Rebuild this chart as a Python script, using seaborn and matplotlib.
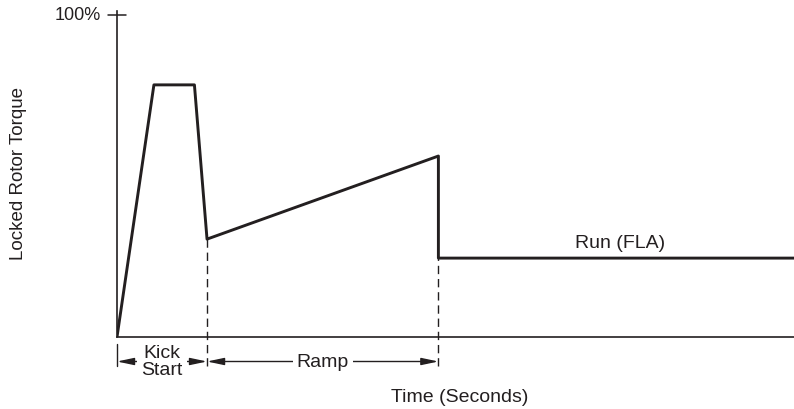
import matplotlib
matplotlib.use("Agg")
import matplotlib.pyplot as plt
import seaborn as sns
import pandas as pd

# Soft-start torque profile: kick start, ramp, then run at full-load amps
time_s = [0, 0.41, 0.86, 1.0, 3.57, 3.57, 7.52]
torque_pct = [0, 78.3, 78.3, 30.4, 56.2, 24.5, 24.5]

kick_end = 1.0
ramp_end = 3.57
kick_level = 30.4
run_level = 24.5
run_label = "Run (FLA)"
phase_labels = ["Kick\nStart", "Ramp"]
y_tick_label = "100%"
x_title = "Time (Seconds)"
y_title = "Locked Rotor Torque"

sns.set_theme(style="white")
plt.rcParams["font.family"] = ["Liberation Sans", "DejaVu Sans"]

ink = "#231f20"
W, H = 794, 410
fig = plt.figure(figsize=(W / 100, H / 100), dpi=100)

# axes area in pixels: x from 117 to right edge, y from 338 (zero) up to 12
left_px, bottom_px, top_px = 117, 338, 12
px_per_pct = 3.22
px_per_sec = (W - left_px) / time_s[-1]
ytop = (bottom_px - top_px) / px_per_pct
ax = fig.add_axes([left_px / W, (H - bottom_px) / H, 1 - left_px / W,
                   (bottom_px - top_px) / H])

df = pd.DataFrame({"time": time_s, "torque": torque_pct})
sns.lineplot(data=df, x="time", y="torque", sort=False, estimator=None,
             color=ink, linewidth=2.1, ax=ax)

ax.set_xlim(0, time_s[-1])
ax.set_ylim(0, ytop)
ax.set_xlabel("")
ax.set_ylabel("")
ax.set_xticks([])
ax.set_yticks([])
for side in ["top", "right"]:
    ax.spines[side].set_visible(False)
for side in ["left", "bottom"]:
    ax.spines[side].set_color(ink)
    ax.spines[side].set_linewidth(1.2)


def sec(px):
    return (px - left_px) / px_per_sec


def pct(px):
    return (bottom_px - px) / px_per_pct


# 100% tick crossing the vertical axis
tick_half = 9 / px_per_sec
ax.plot([-tick_half, tick_half], [100, 100], color=ink, lw=1.1, clip_on=False)
ax.text(sec(101), 100, y_tick_label, ha="right", va="center",
        fontsize=13, color=ink)

# dashed guides from the curve down to the dimension line
dash_bottom = pct(367)
for xv, yv in [(kick_end, kick_level), (ramp_end, run_level)]:
    ax.plot([xv, xv], [dash_bottom, yv], color=ink, lw=1.0,
            dashes=(6, 3.5), clip_on=False)

# extension bar at time zero
ax.plot([0, 0], [pct(345), dash_bottom], color=ink, lw=1.0, clip_on=False)

# dimension arrows
arrow_y = pct(362.5)
astyle = dict(arrowstyle="<|-|>,head_length=0.85,head_width=0.18",
              color=ink, lw=1.0, shrinkA=0, shrinkB=0)
bbox = dict(boxstyle="square,pad=0.2", fc="white", ec="none")
for (x0, x1), lab in zip([(0, kick_end), (kick_end, ramp_end)], phase_labels):
    ax.annotate("", xy=(x0, arrow_y), xytext=(x1, arrow_y),
                arrowprops=astyle, annotation_clip=False)
    ax.text((x0 + x1) / 2, arrow_y, lab, ha="center", va="center",
            fontsize=14, color=ink, linespacing=1.0, bbox=bbox,
            clip_on=False)

# run label above the flat segment
ax.text(sec(620), pct(243), run_label, ha="center", va="center",
        fontsize=14, color=ink)

fig.text(460 / W, (H - 398) / H, x_title, ha="center", va="center",
         fontsize=14, color=ink)
fig.text(18.5 / W, (H - 174) / H, y_title, ha="center", va="center",
         rotation=90, fontsize=13.5, color=ink)

fig.savefig("out.png", dpi=100)
